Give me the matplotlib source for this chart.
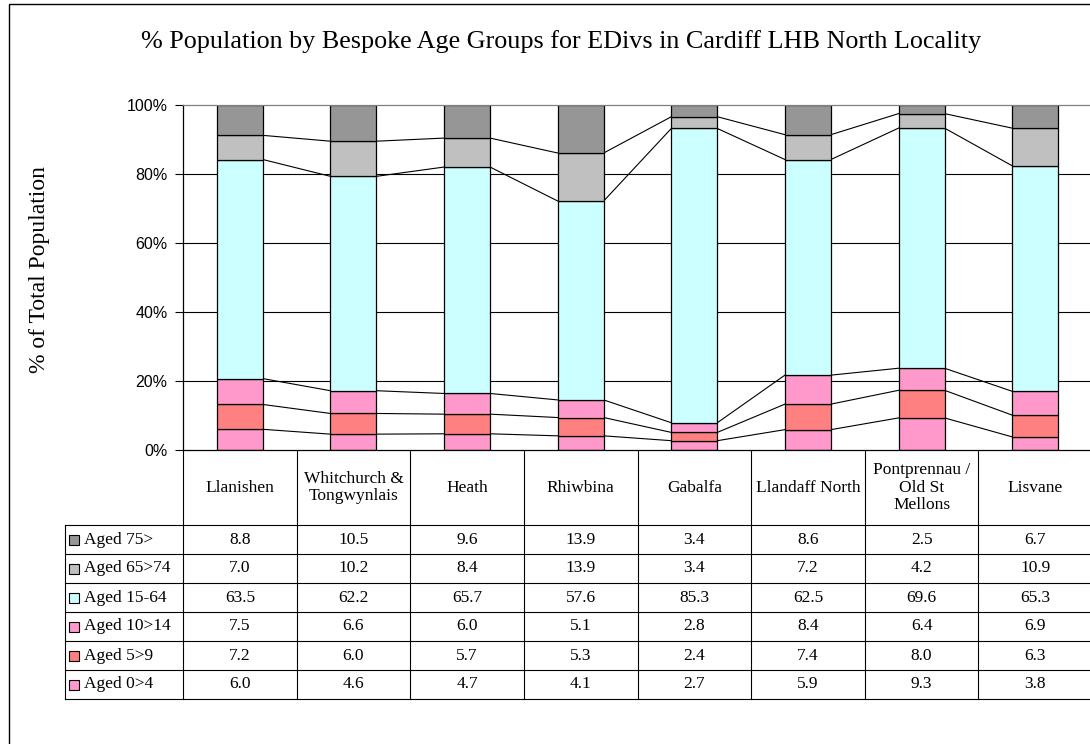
import matplotlib
matplotlib.use("Agg")
import matplotlib.pyplot as plt
from matplotlib.patches import Rectangle
import numpy as np

# ---- data -------------------------------------------------------------
localities = ["Llanishen", "Whitchurch &\nTongwynlais", "Heath", "Rhiwbina",
              "Gabalfa", "Llandaff North", "Pontprennau /\nOld St\nMellons",
              "Lisvane"]
series_names = ["Aged 0>4", "Aged 5>9", "Aged 10>14", "Aged 15-64",
                "Aged 65>74", "Aged 75>"]
aged_0_4 = [6.0, 4.6, 4.7, 4.1, 2.7, 5.9, 9.3, 3.8]
aged_5_9 = [7.2, 6.0, 5.7, 5.3, 2.4, 7.4, 8.0, 6.3]
aged_10_14 = [7.5, 6.6, 6.0, 5.1, 2.8, 8.4, 6.4, 6.9]
aged_15_64 = [63.5, 62.2, 65.7, 57.6, 85.3, 62.5, 69.6, 65.3]
aged_65_74 = [7.0, 10.2, 8.4, 13.9, 3.4, 7.2, 4.2, 10.9]
aged_75 = [8.8, 10.5, 9.6, 13.9, 3.4, 8.6, 2.5, 6.7]
series_colors = ["#FF99CC", "#FF8080", "#FF99CC", "#CCFFFF", "#C0C0C0", "#969696"]
y_ticks = [0, 20, 40, 60, 80, 100]

title = "% Population by Bespoke Age Groups for EDivs in Cardiff LHB North Locality"
y_label = "% of Total Population"

# ---- layout (pixels) --------------------------------------------------
W, H = 1090, 744
plot_l, plot_r, plot_t, plot_b = 183, 1092, 105, 450
leg_l = 65
head_b = 525
row_h = 29
bar_w = 0.405
serif = ["Liberation Serif", "DejaVu Serif"]
sans = ["Liberation Sans", "DejaVu Sans"]

series = [aged_0_4, aged_5_9, aged_10_14, aged_15_64, aged_65_74, aged_75]
vals = np.array(series, dtype=float)
pct = vals / vals.sum(axis=0) * 100.0
x = np.arange(len(localities))

fig = plt.figure(figsize=(W / 100, H / 100), dpi=100)

# overlay in pixel coordinates for frame, titles and data table
ov = fig.add_axes([0, 0, 1, 1], zorder=0)
ov.set_xlim(0, W)
ov.set_ylim(H, 0)
ov.axis("off")

ax = fig.add_axes([plot_l / W, 1 - plot_b / H, (plot_r - plot_l) / W,
                   (plot_b - plot_t) / H], zorder=1)
ax.set_facecolor("white")

# gridlines
for t in y_ticks[1:-1]:
    ax.axhline(t, color="black", lw=0.8, zorder=0)

# stacked bars
bottom = np.zeros(len(localities))
for k in range(len(series)):
    ax.bar(x, pct[k], bar_w, bottom=bottom, color=series_colors[k],
           edgecolor="black", linewidth=0.9, zorder=2)
    bottom = bottom + pct[k]

# series lines joining segment tops between neighbouring bars
cum = np.cumsum(pct, axis=0)
for k in range(len(series) - 1):
    for i in range(len(localities) - 1):
        ax.plot([x[i] + bar_w / 2, x[i + 1] - bar_w / 2],
                [cum[k][i], cum[k][i + 1]], color="black", lw=0.8, zorder=1)

ax.set_xlim(-0.5, len(localities) - 0.5)
ax.set_ylim(0, 100)
ax.set_xticks([])
ax.set_yticks(y_ticks)
ax.set_yticklabels([f"{t}%" for t in y_ticks], fontfamily=sans, fontsize=11.5)
ax.tick_params(axis="y", direction="out", length=6, width=0.8, pad=5)
for s in ["left", "bottom"]:
    ax.spines[s].set_color("black")
    ax.spines[s].set_linewidth(0.9)
ax.spines["top"].set_color("#808080")
ax.spines["top"].set_linewidth(0.9)
ax.spines["right"].set_visible(False)

# outer frame
ov.add_patch(Rectangle((9, 4), 1200, 900, fill=False, edgecolor="black", lw=1.0))

# title and axis label
ov.text(561, 42, title, ha="center", va="center", fontfamily=serif, fontsize=18.8)
ov.text(40, 270, y_label, ha="center", va="center", rotation=90,
        fontfamily=serif, fontsize=17)

# data table
col_w = (plot_r - plot_l) / len(localities)
n_rows = len(series)
tab_b = head_b + n_rows * row_h
lc = dict(color="black", lw=0.8)
for i in range(len(localities) + 1):
    xe = plot_l + i * col_w
    ov.plot([xe, xe], [plot_b, tab_b], **lc)
ov.plot([leg_l, leg_l], [head_b, tab_b], **lc)
for r in range(n_rows + 1):
    ye = head_b + r * row_h
    ov.plot([leg_l, plot_r], [ye, ye], **lc)

for i, name in enumerate(localities):
    ov.text(plot_l + (i + 0.5) * col_w, (plot_b + head_b) / 2, name,
            ha="center", va="center", fontfamily=serif, fontsize=12.5,
            linespacing=1.1)

row_order = list(range(n_rows))[::-1]
for r, k in enumerate(row_order):
    yc = head_b + (r + 0.5) * row_h
    ov.add_patch(Rectangle((69, yc - 5), 10, 10, facecolor=series_colors[k],
                           edgecolor="black", lw=0.8))
    ov.text(84, yc, series_names[k], ha="left", va="center",
            fontfamily=serif, fontsize=12.5)
    for i in range(len(localities)):
        ov.text(plot_l + (i + 0.5) * col_w, yc, f"{vals[k][i]:.1f}",
                ha="center", va="center", fontfamily=serif, fontsize=12.5)

fig.savefig("out.png", dpi=100, facecolor="white")
